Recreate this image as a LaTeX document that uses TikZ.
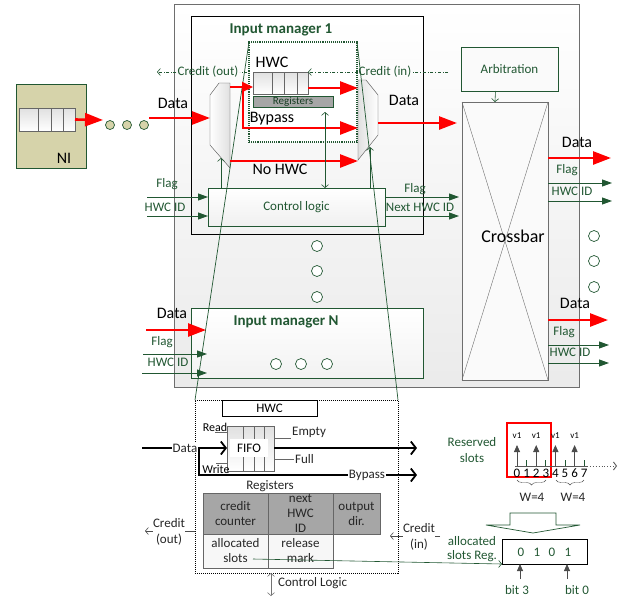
\documentclass[tikz,border=0pt]{standalone}
\usepackage{fontspec}
\setmainfont{Carlito}
\usetikzlibrary{arrows.meta,positioning,decorations.pathreplacing}
\definecolor{dkgreen}{RGB}{33,87,50}
\definecolor{nifill}{RGB}{214,211,170}
\definecolor{regfill}{RGB}{166,166,166}
\definecolor{framegray}{RGB}{110,110,110}
\newcommand{\lblsize}{\fontsize{13}{15}\selectfont}
\newcommand{\datsize}{\fontsize{16}{18}\selectfont}
\newcommand{\minisize}{\fontsize{9}{10}\selectfont}

\begin{document}
\begin{tikzpicture}[
  x=1pt, y=-1pt,
  box/.style={draw, anchor=north west, inner sep=0pt, outer sep=0pt},
  title/.style={font=\bfseries\fontsize{15}{17}\selectfont, text=dkgreen},
  bigtxt/.style={font=\datsize, inner sep=1pt},
  lbl/.style={font=\lblsize, text=dkgreen, inner sep=1pt},
  blk/.style={font=\lblsize, text=black!85, inner sep=1pt},
  dot/.style={circle, draw=dkgreen, fill=white, minimum size=11pt, inner sep=0pt, line width=0.7pt},
  redarrow/.style={-{Triangle[length=18pt,width=13pt]}, line width=2.6pt, red},
  smallred/.style={-{Triangle[length=11pt,width=10pt]}, line width=2.2pt, red},
  sigarrow/.style={-{Triangle[length=10pt,width=7pt]}, dkgreen, line width=0.9pt},
  openarrow/.style={-{Straight Barb[length=3pt,width=7pt]}, dkgreen, line width=0.6pt},
  bidir/.style={{Straight Barb[length=3pt,width=7pt]}-{Straight Barb[length=3pt,width=7pt]}, line width=0.6pt},
  creditline/.style={dkgreen, dash dot, line width=0.6pt},
  blkarrow/.style={-{Straight Barb[length=5pt,width=13pt]}, line width=1.8pt},
  uparrow/.style={-{Triangle[length=7pt,width=6pt]}, black!70, line width=0.8pt},
  cellD/.style={box, draw=black!60, fill=regfill, align=center, font=\lblsize, text=black!85},
  cellL/.style={box, draw=black!60, fill=black!3, align=center, font=\lblsize, text=black!85}
]
\useasboundingbox (0,0) rectangle (621,600);

% router, input managers
\node[box, draw=framegray, line width=1pt, top color=white, bottom color=black!8, minimum width=405pt, minimum height=383pt] (router) at (174,4) {};
\node[box, line width=0.8pt, top color=white, bottom color=black!5, minimum width=232pt, minimum height=218pt] (im1) at (191,16) {};
\node[title] (im1t) at (281,30) {Input manager 1};
\node[box, draw=dkgreen, line width=0.8pt, top color=white, bottom color=black!5, minimum width=232pt, minimum height=70pt] (imn) at (191,308) {};
\node[title] (imnt) at (286,322) {Input manager N};

% HWC in input manager 1
\node[box, draw=dkgreen, densely dotted, line width=1.1pt, fill=white, minimum width=108pt, minimum height=100pt] (hwc) at (249,42) {};
\node[bigtxt] (hwct) at (272,62) {HWC};
\node[box, draw=black!60, top color=black!12, bottom color=white, minimum width=55pt, minimum height=22pt] (fifo1) at (253,72) {};
\foreach \x in {272,284,297} \draw[black!60] (\x,72) -- (\x,94);
\node[box, draw=dkgreen, fill=regfill, minimum width=80pt, minimum height=11pt, font=\fontsize{11}{12}\selectfont, text=dkgreen!70!black] (regs1) at (253,96) {Registers};
\node[bigtxt] (bpt) at (272,119) {Bypass};
\node[bigtxt] (nohwct) at (280,169) {No HWC};

% demux / mux
\draw[black!70, left color=white, right color=black!12] (219,83) -- (230,83) -- (230,168) -- (210,145) -- (210,95) -- cycle;
\draw[black!70, left color=black!12, right color=white] (358,80) -- (366,80) -- (378,95) -- (378,135) -- (358,160) -- cycle;

% control logic
\node[box, draw=dkgreen, top color=white, bottom color=black!6, minimum width=177pt, minimum height=38pt, font=\lblsize, text=dkgreen] (ctrl) at (208,188) {Control logic};

% arbitration, crossbar
\node[box, draw=dkgreen, fill=black!2, minimum width=97pt, minimum height=44pt, font=\lblsize, text=dkgreen] (arb) at (461,47) {Arbitration};
\node[box, draw=framegray, fill=black!2, minimum width=86pt, minimum height=278pt] (xbar) at (462,102) {};
\draw[framegray] (xbar.north west) -- (xbar.south east) (xbar.north east) -- (xbar.south west);
\node[font=\fontsize{18}{20}\selectfont] (xbart) at (513,236) {Crossbar};

% NI
\node[box, draw=dkgreen, fill=nifill, line width=0.8pt, minimum width=70pt, minimum height=84pt] (ni) at (16,84) {};
\node[box, draw=black!60, top color=black!12, bottom color=white, minimum width=56pt, minimum height=23pt] (nififo) at (19,108) {};
\foreach \x in {38,51,63} \draw[black!60] (\x,108) -- (\x,131);
\node[bigtxt] (nit) at (64,158) {NI};

% dots
\foreach \x [count=\i] in {110,127,144} \node[dot, fill=nifill, minimum size=9pt] (nd\i) at (\x,125) {};
\foreach \y [count=\i] in {246,271,297} \node[dot] (vd\i) at (317,\y) {};
\foreach \y [count=\i] in {236,261,287} \node[dot] (rd\i) at (594,\y) {};
\foreach \x [count=\i] in {276,301,327} \node[dot] (md\i) at (\x,364) {};

% lower detail of HWC
\node[box, densely dotted, line width=1pt, fill=white, minimum width=203pt, minimum height=173pt] (hwcd) at (195,400) {};
\node[box, line width=0.8pt, fill=white, minimum width=95pt, minimum height=16pt, font=\lblsize] (hwcdt) at (222,400) {HWC};

% zoom lines
\draw[dkgreen, line width=0.7pt] (hwc.north west) -- (hwcd.north west) (hwc.north east) -- (hwcd.north east);

% coordinates
\coordinate (coutA) at (247,72);
\coordinate (coutB) at (157,72);
\coordinate (cinA) at (448,72);
\coordinate (din) at (149,118);
\coordinate (dmxin) at (210,118);
\coordinate (dmxup) at (230,87);
\coordinate (bpfork) at (243,87);
\coordinate (bpend) at (358,128);
\coordinate (f1out) at (358,88);
\coordinate (nohwcA) at (230,161);
\coordinate (nohwcB) at (358,161);
\coordinate (muxout) at (378,123);
\coordinate (xbin) at (457,123);
\coordinate (niout) at (103,120);
\coordinate (dmxb) at (221,158);
\coordinate (muxb) at (370,147);
\coordinate (regsb) at (325,112);

% credit lines
\node[lbl] (cout) at (208,72) {Credit (out)};
\draw[creditline] (coutA) -- (cout.east);
\draw[creditline, -{Straight Barb[length=3pt,width=7pt]}] (cout.west) -- (coutB);
\node[lbl] (cin) at (385,72) {Credit (in)};
\draw[creditline] (cinA) -- (cin.east);
\draw[creditline, -{Straight Barb[length=3pt,width=7pt]}] (cin.west) -- (fifo1.north east);

% data paths
\draw[redarrow] (nififo.east) -- (niout);
\node[bigtxt] (d1) at (173,103) {Data};
\draw[redarrow] (din) -- (dmxin);
\draw[smallred] (dmxup) -- (dmxup -| fifo1.west);
\draw[redarrow] (bpfork) |- (bpend);
\draw[redarrow] (fifo1.east |- f1out) -- (f1out);
\draw[redarrow] (nohwcA) -- (nohwcB);
\node[bigtxt] (d2) at (404,100) {Data};
\draw[redarrow] (muxout) -- (xbin);

% control arrows
\draw[openarrow] (dmxb |- ctrl.north) -- (dmxb);
\draw[openarrow] (muxb |- ctrl.north) -- (muxb);
\draw[bidir, dkgreen] (regsb) -- (regsb |- ctrl.north);
\draw[openarrow] ([xshift=-14pt]arb.south) -- ([xshift=-10pt]xbar.north);

% flags into / out of control logic
\coordinate (fi1) at (147,197);
\coordinate (hi1) at (147,216);
\coordinate (fo1) at (459,197);
\coordinate (ho1) at (459,216);
\node[lbl] (fi1t) at (167,184) {Flag};
\node[lbl] (hi1t) at (165,207) {HWC ID};
\draw[sigarrow] (fi1) -- (fi1 -| ctrl.west);
\draw[sigarrow] (hi1) -- (hi1 -| ctrl.west);
\node[lbl] (fo1t) at (415,189) {Flag};
\node[lbl] (ho1t) at (420,207) {Next HWC ID};
\draw[sigarrow] (ctrl.east |- fo1) -- (fo1);
\draw[sigarrow] (ctrl.east |- ho1) -- (ho1);

% crossbar outputs
\coordinate (xo1) at (611,158);
\coordinate (xf1) at (612,183);
\coordinate (xh1) at (612,201);
\node[bigtxt] (d3) at (577,142) {Data};
\draw[redarrow] (xbar.east |- xo1) -- (xo1);
\node[lbl] (xf1t) at (567,170) {Flag};
\draw[sigarrow] (xbar.east |- xf1) -- (xf1);
\node[lbl] (xh1t) at (572,191) {HWC ID};
\draw[sigarrow] (xbar.east |- xh1) -- (xh1);
\coordinate (xo2) at (608,320);
\coordinate (xf2) at (609,345);
\coordinate (xh2) at (609,363);
\node[bigtxt] (d4) at (575,303) {Data};
\draw[redarrow] (xbar.east |- xo2) -- (xo2);
\node[lbl] (xf2t) at (564,332) {Flag};
\draw[sigarrow] (xbar.east |- xf2) -- (xf2);
\node[lbl] (xh2t) at (570,352) {HWC ID};
\draw[sigarrow] (xbar.east |- xh2) -- (xh2);

% input manager N inputs
\coordinate (dnA) at (146,330);
\coordinate (dnB) at (206,330);
\coordinate (fnA) at (143,354);
\coordinate (fnB) at (207,354);
\coordinate (hnA) at (142,373);
\coordinate (hnB) at (207,373);
\node[bigtxt] (d5) at (172,313) {Data};
\draw[redarrow] (dnA) -- (dnB);
\node[lbl] (fnt) at (162,342) {Flag};
\draw[sigarrow] (fnA) -- (fnB);
\node[lbl] (hnt) at (168,362) {HWC ID};
\draw[sigarrow] (hnA) -- (hnB);

% lower detail: FIFO
\node[box, draw=black!60, top color=black!12, bottom color=white, minimum width=47pt, minimum height=45pt] (fifo2) at (227,426) {};
\foreach \x in {243,254,264} \draw[black!60] (\x,426) -- (\x,471);
\node[fill=white, font=\lblsize, minimum width=38pt, minimum height=18pt, inner sep=0pt] (fifolbl) at (249,448) {FIFO};
\node[font=\fontsize{12}{14}\selectfont, inner sep=1pt] (rd) at (215,427) {Read};
\draw[black!60] (rd.south) -- (rd.south -| fifo2.west);
\node[font=\fontsize{12}{14}\selectfont, inner sep=1pt] (wr) at (216,469) {Write};
\draw[black!60] (wr.north) -- (wr.north -| fifo2.west);
\node[blk, anchor=west] (emp) at (291,432) {Empty};
\draw[black!60] (fifo2.east |- emp.south) -- (emp.south west);
\node[blk, anchor=west] (full) at (294,459) {Full};
\draw[black!60] (fifo2.east |- full.west) -- (full.west);

\coordinate (ddin) at (142,448);
\coordinate (dout) at (417,448);
\coordinate (bfork) at (199,448);
\coordinate (bout) at (417,475);
\draw[blkarrow] (ddin) -- (ddin -| fifo2.west);
\draw[blkarrow] (fifo2.east |- ddin) -- (dout);
\draw[blkarrow] (bfork) |- (bout);
\node[blk, fill=white, inner sep=0.5pt] (ddata) at (185,448) {Data};
\node[blk, fill=white, inner sep=0.5pt] (dbyp) at (367,475) {Bypass};

% lower detail: registers
\node[blk] (regst) at (270,486) {Registers};
\node[cellD, minimum width=65pt, minimum height=41pt] (cc) at (203,493) {credit\\counter};
\node[cellD, minimum width=65pt, minimum height=41pt] (nh) at (268,493) {next\\HWC\\ID};
\node[cellD, minimum width=47pt, minimum height=41pt] (od) at (333,493) {output\\dir.};
\node[cellL, minimum width=65pt, minimum height=34pt] (as) at (203,534) {allocated\\slots};
\node[cellL, minimum width=65pt, minimum height=34pt] (rm) at (268,534) {release\\mark};

% lower credits and control logic
\coordinate (croL) at (145,531);
\draw[-{Straight Barb[length=3pt,width=7pt]}, black!70, line width=0.6pt] (hwcd.west |- croL) -- (croL);
\node[blk, fill=white, inner sep=0.5pt, align=center, font=\fontsize{13}{16}\selectfont] (crol) at (169,532) {Credit\\(out)};
\coordinate (criA) at (440,536);
\coordinate (criB) at (390,536);
\draw[-{Straight Barb[length=3pt,width=7pt]}, black!70, line width=0.6pt] (criA) -- (criB);
\node[blk, fill=white, inner sep=0.5pt, align=center, font=\fontsize{13}{16}\selectfont] (cril) at (419,537) {Credit\\(in)};
\coordinate (clA) at (271,573);
\coordinate (clB) at (271,596);
\draw[bidir, black!55] (clA) -- (clB);
\node[blk, anchor=west] (clt) at (277,583) {Control Logic};

% reserved slots
\node[lbl, align=center, font=\fontsize{13}{16}\selectfont] (rsv) at (472,450) {Reserved\\slots};
\coordinate (winA) at (507,423);
\coordinate (winB) at (551,477);
\draw[red, line width=1.1pt] (winA) rectangle (winB);
\draw[black!65, line width=0.7pt] (515,466) -- (587,466);
\draw[black!65, dotted, line width=0.9pt, -{Straight Barb[length=3pt,width=8pt]}] (587,466) -- (617,466);
\foreach \i in {0,...,7} {
  \coordinate (t\i) at ({517+9.6*\i},466);
  \node[font=\lblsize, inner sep=0pt] (n\i) at ({517+9.6*\i},473) {\i};
}
\foreach \i in {1,3,5,7} \draw[dkgreen, line width=0.7pt] (t\i) -- ++(0,-6);
\foreach \i in {0,2,4,6} {
  \draw[uparrow] (t\i) -- ++(0,-21);
  \node[font=\minisize, inner sep=0pt] (v\i) at ([yshift=30pt]t\i) {v1};
}
\draw[decorate, decoration={brace, mirror, amplitude=5pt}, black!70] (517,480) -- (546,480);
\draw[decorate, decoration={brace, mirror, amplitude=5pt}, black!70] (556,480) -- (584,480);
\node[blk] (w1) at (532,497) {W=4};
\node[blk] (w2) at (573,497) {W=4};

% block arrow and allocated slots register
\draw[dkgreen, fill=white, line width=0.7pt] (510,513) -- (556,513) -- (556,525) -- (580,525) -- (533,533) -- (486,525) -- (510,525) -- cycle;
\node[box, line width=0.8pt, minimum width=85pt, minimum height=25pt] (areg) at (502,539) {};
\foreach \b/\x [count=\i] in {0/521,1/537,0/552,1/568} \node[lbl] (bit\i) at (\x,552) {\b};
\node[lbl, align=center, font=\fontsize{13}{14}\selectfont] (aregl) at (472,549) {allocated\\slots Reg.};
\coordinate (asA) at (253,559);
\draw[openarrow] (asA) -- (areg.south west);
\coordinate (b3) at (520,579);
\coordinate (b0) at (567,579);
\draw[uparrow] (b3) -- (b3 |- areg.south);
\draw[uparrow] (b0) -- (b0 |- areg.south);
\node[lbl] (b3t) at (517,590) {bit 3};
\node[lbl] (b0t) at (577,590) {bit 0};
\end{tikzpicture}
\end{document}
